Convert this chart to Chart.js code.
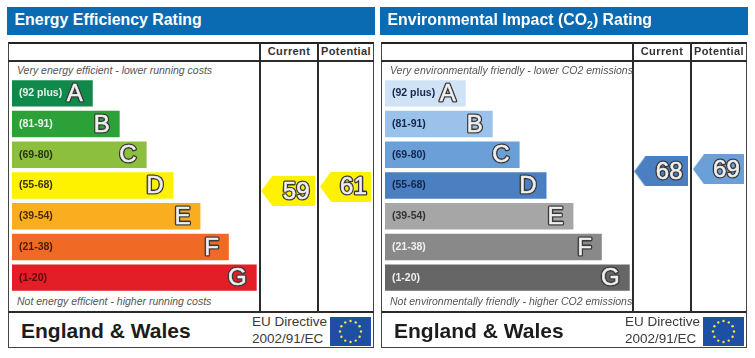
<!DOCTYPE html>
<html>
<head>
<meta charset="utf-8">
<title>EPC ratings</title>
<script src="https://cdn.jsdelivr.net/npm/chart.js@4"></script>
<style>
    html, body { margin: 0; background: #fff; overflow: hidden; }
    body { width: 755px; height: 358px; position: relative; font-family: "Liberation Sans", Arial, sans-serif; }
    .panel { position: absolute; top: 0; width: 375px; height: 358px; }
    .panel div, .panel canvas { position: absolute; white-space: nowrap; }
    .title { left: 7px; top: 7px; width: 368px; height: 28px; padding-left: 7.5px; background: #0a6bb3; color: #fff;
        font: bold 15.9px/26px "Liberation Sans", Arial, sans-serif; box-sizing: border-box; }
    .title sub { font-size: 10.5px; line-height: 0; }
    .frame { left: 8px; top: 42px; width: 364px; height: 303px; border: 1px solid #444; border-top: 2px solid #222; }
    .hline { left: 8px; width: 366px; height: 2px; background: #2b2b2b; }
    .vline { top: 42px; height: 271px; width: 2px; background: #2b2b2b; }
    .col { top: 44px; font: bold 11px/14px "Liberation Sans", Arial, sans-serif; letter-spacing: 0.4px; color: #333; text-align: center; }
    .note { left: 17px; font: italic 10.5px/12px "Liberation Sans", Arial, sans-serif; color: #555; }
    .region { left: 21px; top: 319px; font: bold 21px/24px "Liberation Sans", Arial, sans-serif; color: #1c1c1c; }
    .eu { left: 252px; font: 13.5px/16px "Liberation Sans", Arial, sans-serif; color: #3a3a3a; }
</style>
</head>
<body>
<div class="panel" id="energy">
    <div class="title">Energy Efficiency Rating</div>
    <div class="frame"></div>
    <div class="hline" style="top:60px"></div>
    <div class="hline" style="top:311px"></div>
    <div class="vline" style="left:259px"></div>
    <div class="vline" style="left:317px"></div>
    <div class="col" style="left:261px;width:56px">Current</div>
    <div class="col" style="left:319px;width:54px">Potential</div>
    <div class="note" style="top:64px">Very energy efficient - lower running costs</div>
    <div class="note" style="top:295px">Not energy efficient - higher running costs</div>
    <div class="region">England &amp; Wales</div>
    <div class="eu" style="top:314px">EU Directive</div>
    <div class="eu" style="top:331px">2002/91/EC</div>
    <canvas id="energy-chart" width="375" height="358"></canvas>
</div>
<div class="panel" id="environment" style="left:373px">
    <div class="title">Environmental Impact (CO<sub>2</sub>) Rating</div>
    <div class="frame"></div>
    <div class="hline" style="top:60px"></div>
    <div class="hline" style="top:311px"></div>
    <div class="vline" style="left:259px"></div>
    <div class="vline" style="left:317px"></div>
    <div class="col" style="left:261px;width:56px">Current</div>
    <div class="col" style="left:319px;width:54px">Potential</div>
    <div class="note" style="top:64px">Very environmentally friendly - lower CO2 emissions</div>
    <div class="note" style="top:295px">Not environmentally friendly - higher CO2 emissions</div>
    <div class="region">England &amp; Wales</div>
    <div class="eu" style="top:314px">EU Directive</div>
    <div class="eu" style="top:331px">2002/91/EC</div>
    <canvas id="environment-chart" width="375" height="358"></canvas>
</div>
<script>
var grades = ["A", "B", "C", "D", "E", "F", "G"];
var ranges = ["(92 plus)", "(81-91)", "(69-80)", "(55-68)", "(39-54)", "(21-38)", "(1-20)"];
var bandFloors = [92, 81, 69, 55, 39, 21, 1];
// bar length as % of the longest band
var barLengths = [33, 44, 55, 66, 77, 88.6, 100];

var energyColors = ["#0f8a4b", "#2ca138", "#8dbf3f", "#fff200", "#f9ae1f", "#f06a25", "#e31e26"];
var energyLabelColors = ["#e8f3ea", "#e8f3ea", "#2a3310", "#3a3300", "#4a2c00", "#4a1c00", "#5a0a10"];
var energyRatings = [59, 61];

var environmentColors = ["#d0e2f5", "#9bc2eb", "#6b9fd8", "#4a7fc1", "#a6a6a6", "#898989", "#666666"];
var environmentLabelColors = ["#14264a", "#14264a", "#14264a", "#14264a", "#333333", "#eeeeee", "#eeeeee"];
var environmentRatings = [68, 69];

// pointer shape, one canvas per column
function pointerImage(color, w) {
    var c = document.createElement("canvas");
    c.width = w;
    c.height = 30;
    var ctx = c.getContext("2d");
    ctx.fillStyle = color;
    ctx.beginPath();
    ctx.moveTo(0, 15);
    ctx.lineTo(11, 0);
    ctx.lineTo(w, 0);
    ctx.lineTo(w, 30);
    ctx.lineTo(11, 30);
    ctx.closePath();
    ctx.fill();
    return c;
}

function bandColor(rating, colors) {
    var i = bandFloors.findIndex(function(floor) { return rating >= floor; });
    return colors[i];
}

function outlined(ctx, text, x, y) {
    ctx.lineJoin = "round";
    ctx.lineWidth = 3.2;
    ctx.strokeStyle = "#3a3a3a";
    ctx.strokeText(text, x, y);
    ctx.lineWidth = 0.5;
    ctx.strokeStyle = "#f0f0f0";
    ctx.strokeText(text, x, y);
    ctx.fillStyle = "#f0f0f0";
    ctx.fillText(text, x, y);
}

// band letters, range labels, pointer numbers and the EU flag
var labelPlugin = {
    id: "labels",
    afterDraw: function(chart, args, opts) {
        var ctx = chart.ctx;
        ctx.save();
        ctx.textBaseline = "middle";
        chart.getDatasetMeta(0).data.forEach(function(bar, i) {
            ctx.textAlign = "left";
            ctx.font = "bold 10.5px 'Liberation Sans', Arial, sans-serif";
            ctx.fillStyle = opts.labelColors[i];
            ctx.fillText(ranges[i], 19, bar.y);
            ctx.textAlign = "right";
            ctx.font = "24px 'Liberation Sans', Arial, sans-serif";
            outlined(ctx, grades[i], bar.x - 10, bar.y + 1);
        });
        ctx.textAlign = "center";
        chart.getDatasetMeta(1).data.forEach(function(pt, i) {
            outlined(ctx, String(opts.ratings[i]), pt.x + 8, pt.y + 1);
        });
        // flag
        ctx.fillStyle = "#1d4fa3";
        ctx.fillRect(330, 317, 41, 29);
        ctx.fillStyle = "#ffe14d";
        for (var s = 0; s < 12; s++) {
            var a = s * Math.PI / 6;
            ctx.beginPath();
            ctx.arc(350.5 + 10.5 * Math.cos(a), 331.5 + 10.5 * Math.sin(a), 1.2, 0, 2 * Math.PI);
            ctx.fill();
        }
        ctx.restore();
    }
};

function buildPanel(id, colors, labelColors, ratings) {
    new Chart(document.getElementById(id), {
        type: "bar",
        plugins: [labelPlugin],
        data: {
            labels: grades,
            datasets: [{
                indexAxis: "y",
                grouped: false,
                xAxisID: "x",
                yAxisID: "y",
                data: barLengths,
                backgroundColor: colors,
                categoryPercentage: 1,
                barPercentage: 0.86
            }, {
                type: "scatter",
                indexAxis: "x",
                xAxisID: "col",
                yAxisID: "rating",
                clip: false,
                showLine: false,
                // column 0 is Current, column 1 is Potential
                data: ratings.map(function(r, i) { return {x: i, y: r}; }),
                pointStyle: ratings.map(function(r, i) {
                    return pointerImage(bandColor(r, colors), i == 0 ? 54 : 51);
                })
            }]
        },
        options: {
            indexAxis: "y",
            responsive: false,
            animation: false,
            layout: {padding: {left: 12, right: 3, top: 78, bottom: 65}},
            plugins: {
                legend: {display: false},
                tooltip: {enabled: false},
                labels: {colors: colors, labelColors: labelColors, ratings: ratings}
            },
            scales: {
                x: {type: "linear", display: false, offset: false, min: 0, max: 146.3},
                y: {type: "category", display: false, offset: true},
                col: {type: "linear", axis: "x", display: false, offset: false, min: -4.83, max: 1.43},
                rating: {type: "linear", axis: "y", display: false, offset: false, min: 12, max: 111}
            }
        }
    });
}

buildPanel("energy-chart", energyColors, energyLabelColors, energyRatings);
buildPanel("environment-chart", environmentColors, environmentLabelColors, environmentRatings);
</script>
</body>
</html>
